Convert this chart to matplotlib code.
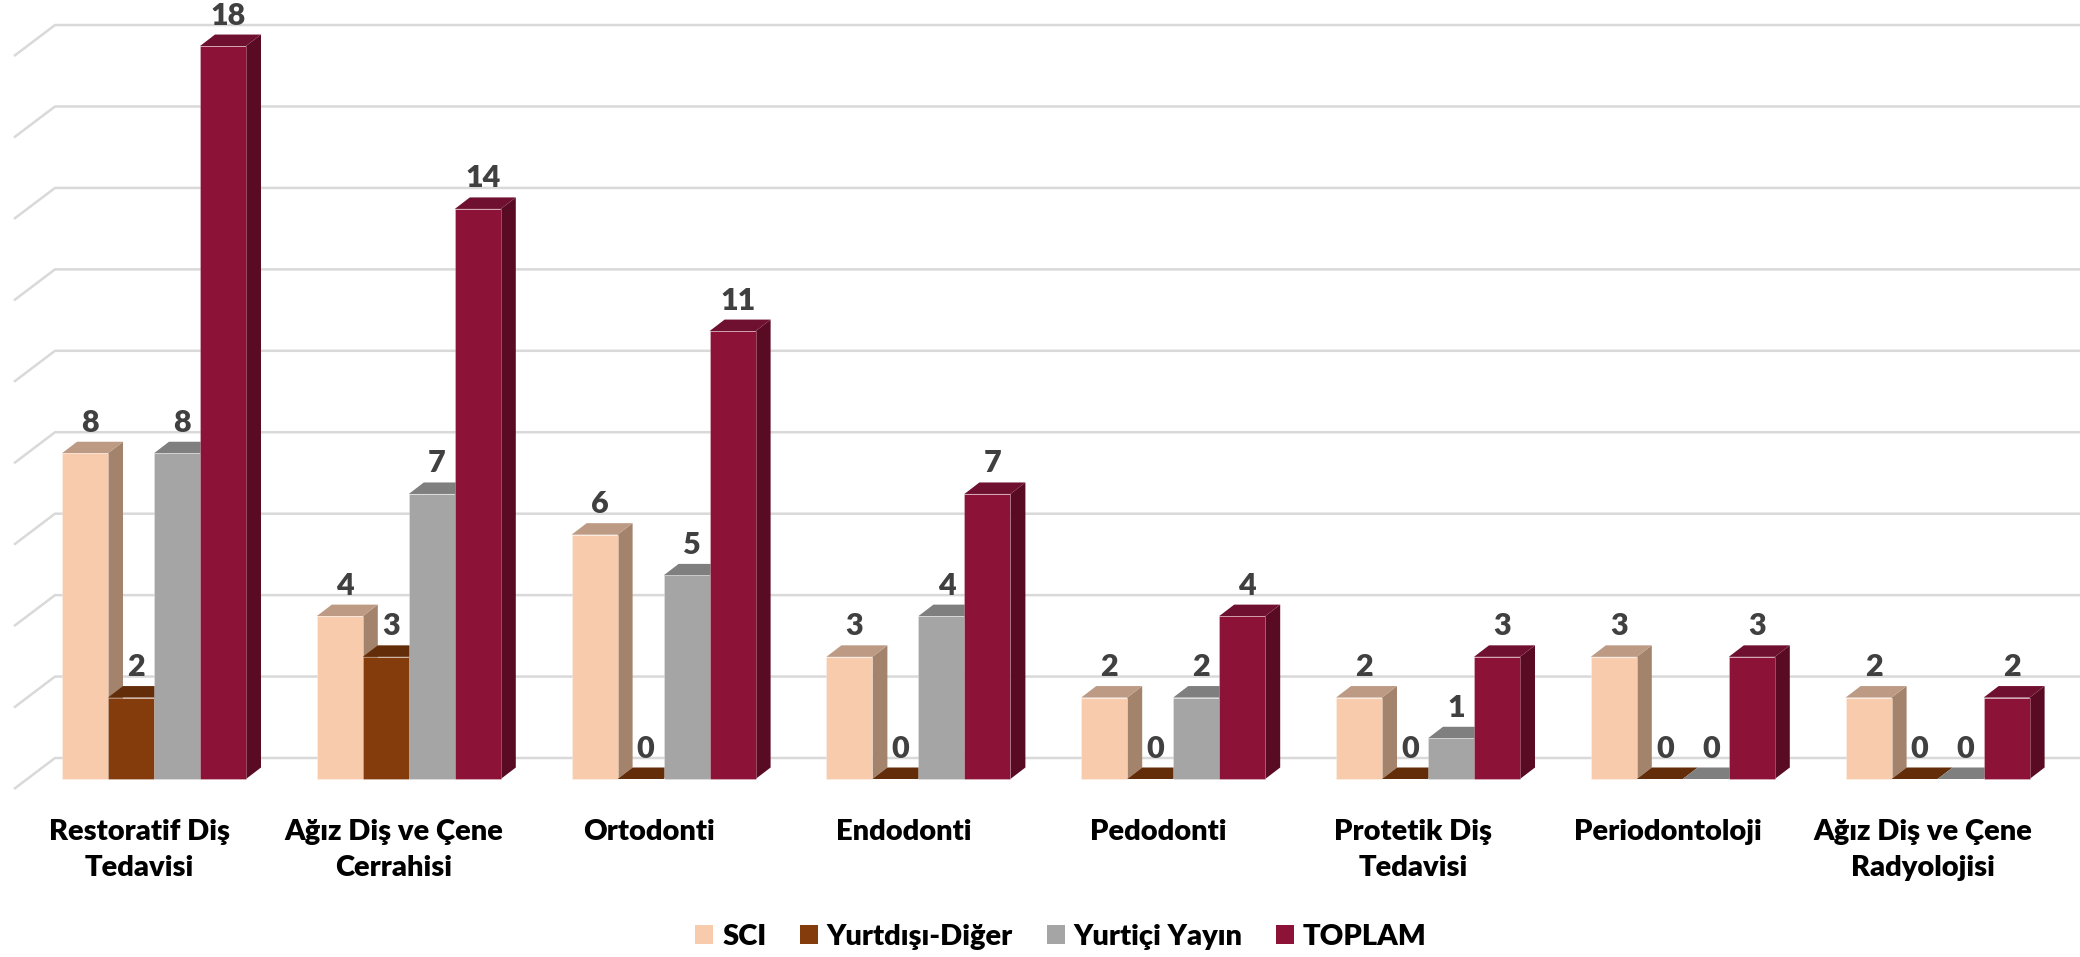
import matplotlib
matplotlib.use('Agg')
import numpy as np
import matplotlib.pyplot as plt
from matplotlib.patches import Polygon, Patch

#---------------data---------------------
categories = ['Restoratif Diş\nTedavisi', 'Ağız Diş ve Çene\nCerrahisi', 'Ortodonti', 'Endodonti',
              'Pedodonti', 'Protetik Diş\nTedavisi', 'Periodontoloji', 'Ağız Diş ve Çene\nRadyolojisi']
series_names = ['SCI', 'Yurtdışı-Diğer', 'Yurtiçi Yayın', 'TOPLAM']
sci = [8, 4, 6, 3, 2, 2, 3, 2]
yurtdisi = [2, 3, 0, 0, 0, 0, 0, 0]
yurtici = [8, 7, 5, 4, 2, 1, 0, 0]
toplam = [18, 14, 11, 7, 4, 3, 3, 2]
gridvals = [0, 2, 4, 6, 8, 10, 12, 14, 16, 18]

front_colors = ['#F8CBAD', '#843C0C', '#A5A5A5', '#8C1238']
side_colors = ['#A3836C', '#4F2407', '#636363', '#5A0B24']
top_colors = ['#BD9A83', '#632D09', '#7F7F7F', '#701030']

#---------------scales (pixels of the 2080x957 figure)---------------------
W, H = 2080, 957
x0_px, period_px = 62.0, 254.8
base_px, unit_px = 779.0, 40.72
sx = 1 / period_px      # 1 pixel in x data units
sy = 1 / unit_px        # 1 pixel in y data units
barw = 46 * sx
dx = 15 * sx            # bar depth
dy = 11.5 * sy

plt.rcParams['font.family'] = ['Lato', 'DejaVu Sans']

fig = plt.figure(figsize=(W / 100, H / 100), dpi=100)
ax = fig.add_axes([0, 0, 1, 1])
ax.set_xlim(-x0_px * sx, (W - x0_px) * sx)
ax.set_ylim((base_px - H) * sy, base_px * sy)
ax.axis('off')

#---------gridlines, on the back wall with a slanted part on the left-----------
wall_x = (55 - x0_px) * sx
wall_dy = 21 * sy       # back wall 0 sits 21 px above the bar base
for g in gridvals:
    y = g + wall_dy
    ax.plot([(14 - x0_px) * sx, wall_x, (W - x0_px) * sx], [y - 31 * sy, y, y],
            color='#D9D9D9', lw=1.8, zorder=1, solid_capstyle='butt')

#---------bars-----------
data = [sci, yurtdisi, yurtici, toplam]
for i in range(len(categories)):
    for s in range(4):
        v = data[s][i]
        left = i + s * barw
        right = left + barw
        z = 2 + s
        ax.add_patch(Polygon([(right, 0), (right + dx, dy), (right + dx, v + dy), (right, v)],
                             fc=side_colors[s], ec='none', zorder=z))
        ax.add_patch(Polygon([(left, v), (right, v), (right + dx, v + dy), (left + dx, v + dy)],
                             fc=top_colors[s], ec='none', zorder=z))
        ax.bar(left, v, barw, align='edge', color=front_colors[s], edgecolor=(1, 1, 1, 0.3),
               linewidth=0.6, zorder=z + 0.5)
    for s in range(4):
        v = data[s][i]
        ax.text(i + (s + 0.5) * barw + 5 * sx, v + dy + 10 * sy, str(v), ha='center', va='baseline',
                fontsize=22, fontweight='heavy', color='#404040', zorder=10)
    ax.text(i + 77 * sx, (base_px - 819) * sy, categories[i], ha='center', va='top',
            fontsize=21, fontweight='heavy', color='black', linespacing=1.47, zorder=10)

#---------legend-----------
handles = [Patch(fc=c, ec='none') for c in front_colors]
leg = ax.legend(handles, series_names, loc='center', bbox_to_anchor=(1061 / W, (H - 937) / H),
                ncol=4, frameon=False, handlelength=0.62, handleheight=0.62, handletextpad=0.3,
                columnspacing=1.15, prop={'family': ['Lato', 'DejaVu Sans'], 'weight': 'heavy', 'size': 21})

fig.savefig('out.png', dpi=100)
